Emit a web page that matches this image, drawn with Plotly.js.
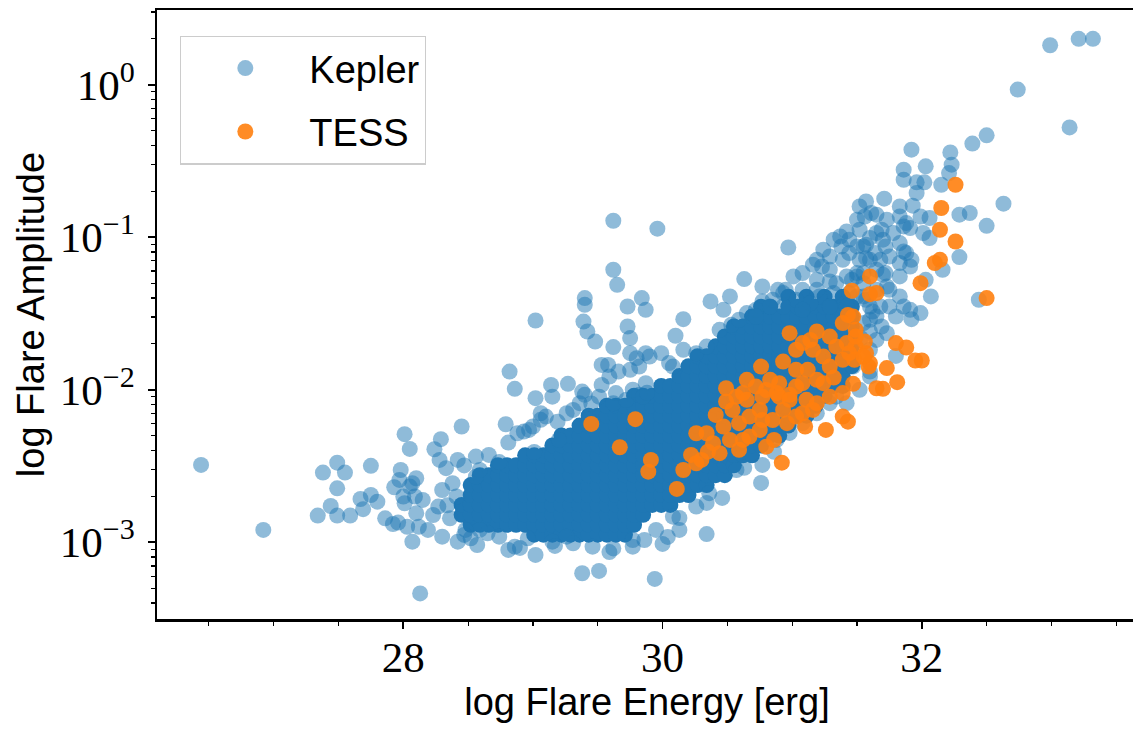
<!DOCTYPE html>
<html>
<head>
<meta charset="utf-8">
<script src="https://cdn.plot.ly/plotly-3.0.1.min.js"></script>
<style>
html,body{margin:0;padding:0;background:#fff;overflow:hidden;}
#chart{width:1140px;height:730px;}
</style>
</head>
<body>
<div id="chart"></div>
<script>
// ---------- Kepler: individual (translucent) flares, log energy & log amplitude ----------
const keplerLogE = [
26.44,26.92,28.01,28.05,27.49,27.38,27.55,27.75,27.49,27.67,27.75,27.80,27.69,27.44,27.34,27.49,27.59,27.86,27.92,27.96,27.98,27.97,27.93,28.01,28.07,28.07,28.13,
28.00,28.05,28.10,28.09,28.15,28.10,28.03,28.12,28.19,28.23,28.27,28.30,28.38,28.30,28.42,28.52,28.65,28.81,28.86,29.02,29.38,29.51,29.46,29.62,29.77,29.77,29.94,
29.15,29.31,29.26,28.74,28.96,28.59,28.36,28.48,28.41,28.47,28.56,28.45,28.79,28.29,28.24,28.28,28.33,28.56,28.66,28.42,28.81,
29.02,29.06,29.06,28.97,28.88,29.19,29.26,29.36,29.40,28.93,29.00,29.10,29.31,29.45,29.51,29.62,29.72,29.82,29.15,
29.62,29.62,29.65,29.40,29.40,29.02,29.39,29.42,29.48,29.73,29.84,29.87,29.73,29.75,29.62,29.75,29.80,29.87,29.53,29.58,29.66,
28.82,28.86,29.14,29.27,29.38,29.53,29.59,29.75,29.82,29.77,29.87,29.64,29.85,
29.96,30.97,30.63,30.77,30.37,30.52,30.47,30.16,30.10,29.90,29.99,30.08,30.26,30.44,30.53,30.65,30.77,30.89,31.01,31.16,31.24,31.32,31.42,31.52,31.57,31.52,31.57,31.56,
31.44,31.55,31.64,31.60,31.39,31.29,31.19,31.08,31.34,31.50,31.65,31.65,31.55,30.34,30.59,30.72,30.85,30.95,30.05,30.16,
32.99,33.21,33.32,32.74,33.14,32.50,32.39,31.92,32.22,32.23,32.03,31.86,32.21,31.86,31.96,32.02,32.15,31.96,32.63,31.71,31.83,31.93,32.29,32.37,32.50,
31.65,31.73,31.83,31.88,31.99,32.01,32.29,32.16,32.44,32.07,32.03,31.69,31.72,31.75,31.83,31.88,31.91,31.83,31.72,31.75,31.83,31.46,31.44,31.57,31.68,31.91,31.99,31.75,
31.92,31.73,31.86,31.80,31.62,31.60,31.69,31.73,31.60,31.65,31.53,31.80,31.60,31.47,31.60,31.61,32.06,31.86,31.91,32.06,31.60,31.70,31.78,31.83,31.50,31.57,31.68,31.86,31.92,
31.50,31.55,31.70,
29.95,30.00,30.04,30.13,30.13,30.34,30.34,30.46,30.76,30.77,30.63,30.86,30.88,30.98,30.08,30.26,30.36,30.57,31.08,31.19,31.29,31.34,31.42,31.60,31.52,
31.23,31.29,31.38,31.44,31.52,31.32,31.50,31.21,31.14,31.03,30.93,31.60,31.65,31.42,
28.57,28.90,29.17,29.59,29.86,28.47,28.34,
28.59,28.74,29.01,29.20,29.43,29.88,
31.08,31.19,31.37,31.50,31.65,31.29,31.42,31.55,31.19,30.93,30.83,30.72,31.08,31.29,31.55
];
const keplerLogAmp = [
-2.493,-2.919,-2.291,-2.388,-2.478,-2.543,-2.543,-2.499,-2.646,-2.716,-2.690,-2.734,-2.783,-2.762,-2.825,-2.825,-2.825,-2.843,-2.880,-2.871,-2.526,-2.591,-2.639,-2.744,-2.996,-2.613,-3.335,
-2.70,-2.635,-2.58,-2.70,-2.722,-2.81,-2.898,-2.898,-2.919,-2.821,-2.766,-2.657,-2.613,-2.963,-2.996,-2.974,-2.941,-3.05,-3.029,-3.083,-3.203,-3.188,-3.029,-3.04,-3.029,-2.985,-3.24,
-2.996,-3.007,-2.963,-2.963,-2.974,-2.919,-2.843,-2.919,-2.70,-2.496,-2.57,-2.241,-2.226,-2.324,-2.39,-2.46,-2.514,-2.438,-2.427,-2.46,-2.346,
-2.055,-2.154,-2.197,-2.263,-2.285,-2.209,-2.154,-2.088,-2.033,-2.274,-2.241,-2.176,-2.132,-2.09,-2.045,-2.088,-2.066,-2.033,-2.045,
-0.892,-1.213,-1.312,-1.399,-1.443,-1.546,-1.553,-1.618,-1.684,-1.454,-1.399,-1.476,-1.585,-1.661,-1.72,-1.76,-1.793,-1.76,-1.837,-1.837,-1.881,
-1.881,-1.994,-1.968,-1.961,-2.012,-1.968,-1.913,-1.869,-1.848,-2.0,-1.957,-2.022,-2.045,
-0.944,-1.067,-1.274,-1.323,-1.421,-1.388,-1.476,-1.537,-1.646,-1.782,-1.76,-1.848,-1.76,-1.607,-1.574,-1.497,-1.421,-1.345,-1.257,-1.18,-1.082,-1.016,-0.962,-0.951,-1.049,-0.798,-0.765,-0.864,
-1.016,-1.06,-1.104,-1.148,-1.148,-1.213,-1.279,-1.345,-1.301,-1.257,-1.213,-1.345,-1.388,-1.717,-1.541,-1.476,-1.41,-1.345,-1.825,-1.738,
0.259,0.301,0.301,-0.032,-0.28,-0.332,-0.386,-0.426,-0.444,-0.524,-0.535,-0.557,-0.579,-0.623,-0.64,-0.64,-0.656,-0.71,-0.78,-0.747,-0.798,-0.793,-0.852,-0.841,-0.925,
-0.852,-0.885,-0.864,-0.907,-0.864,-0.972,-1.13,-1.213,-1.41,-1.388,-1.279,-0.951,-1.06,-1.126,-1.169,-1.104,-1.192,-1.257,-1.235,-1.345,-1.388,-1.279,-1.366,-1.41,-1.454,-1.476,-1.497,-1.454,
-1.537,-1.323,-1.454,-1.52,-1.487,-1.541,-1.585,-1.629,-1.618,-1.673,-1.661,-1.778,-1.738,-1.848,-1.881,-0.841,-0.874,-0.929,-0.94,-1.005,-1.005,-1.016,-0.972,-1.038,-1.06,-1.137,-1.148,-1.093,-1.148,
-1.235,-1.301,-1.246,
-2.919,-3.011,-2.965,-2.841,-2.919,-2.946,-2.742,-2.709,-2.611,-2.493,-2.512,-2.407,-2.329,-2.283,-2.832,-2.766,-2.678,-2.526,-2.219,-2.154,-2.088,-2.045,-2.088,-1.913,-2.0,
-1.192,-1.126,-1.06,-1.104,-1.148,-1.366,-1.388,-1.388,-1.432,-1.41,-1.454,-1.454,-1.52,-1.454,
-3.018,-3.037,-3.024,-3.064,-2.985,-2.952,-2.757,
-2.526,-2.474,-2.408,-2.329,-2.197,-2.02,
-1.235,-1.148,-0.995,-0.885,-0.972,-1.29,-1.257,-1.235,-1.345,-1.366,-1.454,-1.52,-1.476,-1.454,-1.563
];

// ---------- Kepler: densely overplotted core of the cloud (read column by column) ----------
const keplerCoreLogE = [
28.45,28.45,
28.52,28.52,28.52,28.52,28.52,
28.59,28.59,28.59,28.59,28.59,28.59,
28.66,28.66,28.66,28.66,28.66,28.66,
28.73,28.73,28.73,28.73,28.73,28.73,28.73,
28.80,28.80,28.80,28.80,28.80,28.80,28.80,
28.87,28.87,28.87,28.87,28.87,28.87,28.87,
28.94,28.94,28.94,28.94,28.94,28.94,28.94,28.94,
29.01,29.01,29.01,29.01,29.01,29.01,29.01,29.01,29.01,
29.08,29.08,29.08,29.08,29.08,29.08,29.08,29.08,29.08,
29.15,29.15,29.15,29.15,29.15,29.15,29.15,29.15,29.15,29.15,
29.22,29.22,29.22,29.22,29.22,29.22,29.22,29.22,29.22,29.22,29.22,
29.29,29.29,29.29,29.29,29.29,29.29,29.29,29.29,29.29,29.29,29.29,
29.36,29.36,29.36,29.36,29.36,29.36,29.36,29.36,29.36,29.36,29.36,29.36,
29.43,29.43,29.43,29.43,29.43,29.43,29.43,29.43,29.43,29.43,29.43,29.43,29.43,
29.50,29.50,29.50,29.50,29.50,29.50,29.50,29.50,29.50,29.50,29.50,29.50,29.50,
29.57,29.57,29.57,29.57,29.57,29.57,29.57,29.57,29.57,29.57,29.57,29.57,29.57,29.57,
29.64,29.64,29.64,29.64,29.64,29.64,29.64,29.64,29.64,29.64,29.64,29.64,29.64,29.64,
29.71,29.71,29.71,29.71,29.71,29.71,29.71,29.71,29.71,29.71,29.71,29.71,29.71,29.71,
29.78,29.78,29.78,29.78,29.78,29.78,29.78,29.78,29.78,29.78,29.78,29.78,29.78,29.78,
29.85,29.85,29.85,29.85,29.85,29.85,29.85,29.85,29.85,29.85,29.85,29.85,29.85,
29.92,29.92,29.92,29.92,29.92,29.92,29.92,29.92,29.92,29.92,29.92,29.92,
29.99,29.99,29.99,29.99,29.99,29.99,29.99,29.99,29.99,29.99,29.99,29.99,29.99,
30.06,30.06,30.06,30.06,30.06,30.06,30.06,30.06,30.06,30.06,30.06,30.06,30.06,
30.13,30.13,30.13,30.13,30.13,30.13,30.13,30.13,30.13,30.13,30.13,30.13,30.13,
30.20,30.20,30.20,30.20,30.20,30.20,30.20,30.20,30.20,30.20,30.20,30.20,30.20,30.20,
30.27,30.27,30.27,30.27,30.27,30.27,30.27,30.27,30.27,30.27,30.27,30.27,30.27,30.27,
30.34,30.34,30.34,30.34,30.34,30.34,30.34,30.34,30.34,30.34,30.34,30.34,30.34,30.34,
30.41,30.41,30.41,30.41,30.41,30.41,30.41,30.41,30.41,30.41,30.41,30.41,30.41,30.41,
30.48,30.48,30.48,30.48,30.48,30.48,30.48,30.48,30.48,30.48,30.48,30.48,30.48,30.48,30.48,
30.55,30.55,30.55,30.55,30.55,30.55,30.55,30.55,30.55,30.55,30.55,30.55,30.55,30.55,30.55,
30.62,30.62,30.62,30.62,30.62,30.62,30.62,30.62,30.62,30.62,30.62,30.62,30.62,30.62,
30.69,30.69,30.69,30.69,30.69,30.69,30.69,30.69,30.69,30.69,30.69,30.69,30.69,30.69,30.69,
30.76,30.76,30.76,30.76,30.76,30.76,30.76,30.76,30.76,30.76,30.76,30.76,30.76,30.76,30.76,
30.83,30.83,30.83,30.83,30.83,30.83,30.83,30.83,30.83,30.83,30.83,30.83,30.83,30.83,
30.90,30.90,30.90,30.90,30.90,30.90,30.90,30.90,30.90,30.90,30.90,30.90,30.90,
30.97,30.97,30.97,30.97,30.97,30.97,30.97,30.97,30.97,30.97,30.97,30.97,30.97,30.97,
31.04,31.04,31.04,31.04,31.04,31.04,31.04,31.04,31.04,31.04,31.04,31.04,
31.11,31.11,31.11,31.11,31.11,31.11,31.11,31.11,31.11,31.11,31.11,31.11,31.11,
31.18,31.18,31.18,31.18,31.18,31.18,31.18,31.18,31.18,31.18,31.18,
31.25,31.25,31.25,31.25,31.25,31.25,31.25,31.25,31.25,31.25,31.25,
31.32,31.32,31.32,31.32,31.32,31.32,31.32,31.32,31.32,
31.39,31.39,31.39,31.39,31.39,31.39,31.39,31.39,31.39,31.39,
31.46,31.46,31.46,31.46,31.46,31.46,31.46
];
const keplerCoreLogAmp = [
-2.82,-2.755,
-2.885,-2.82,-2.755,-2.69,-2.625,
-2.885,-2.82,-2.755,-2.69,-2.625,-2.56,
-2.885,-2.82,-2.755,-2.69,-2.625,-2.56,
-2.885,-2.82,-2.755,-2.69,-2.625,-2.56,-2.495,
-2.885,-2.82,-2.755,-2.69,-2.625,-2.56,-2.495,
-2.885,-2.82,-2.755,-2.69,-2.625,-2.56,-2.495,
-2.885,-2.82,-2.755,-2.69,-2.625,-2.56,-2.495,-2.43,
-2.95,-2.885,-2.82,-2.755,-2.69,-2.625,-2.56,-2.495,-2.43,
-2.95,-2.885,-2.82,-2.755,-2.69,-2.625,-2.56,-2.495,-2.43,
-2.95,-2.885,-2.82,-2.755,-2.69,-2.625,-2.56,-2.495,-2.43,-2.365,
-2.95,-2.885,-2.82,-2.755,-2.69,-2.625,-2.56,-2.495,-2.43,-2.365,-2.3,
-2.95,-2.885,-2.82,-2.755,-2.69,-2.625,-2.56,-2.495,-2.43,-2.365,-2.3,
-2.95,-2.885,-2.82,-2.755,-2.69,-2.625,-2.56,-2.495,-2.43,-2.365,-2.3,-2.235,
-2.95,-2.885,-2.82,-2.755,-2.69,-2.625,-2.56,-2.495,-2.43,-2.365,-2.3,-2.235,-2.17,
-2.95,-2.885,-2.82,-2.755,-2.69,-2.625,-2.56,-2.495,-2.43,-2.365,-2.3,-2.235,-2.17,
-2.95,-2.885,-2.82,-2.755,-2.69,-2.625,-2.56,-2.495,-2.43,-2.365,-2.3,-2.235,-2.17,-2.105,
-2.95,-2.885,-2.82,-2.755,-2.69,-2.625,-2.56,-2.495,-2.43,-2.365,-2.3,-2.235,-2.17,-2.105,
-2.95,-2.885,-2.82,-2.755,-2.69,-2.625,-2.56,-2.495,-2.43,-2.365,-2.3,-2.235,-2.17,-2.105,
-2.885,-2.82,-2.755,-2.69,-2.625,-2.56,-2.495,-2.43,-2.365,-2.3,-2.235,-2.17,-2.105,-2.04,
-2.82,-2.755,-2.69,-2.625,-2.56,-2.495,-2.43,-2.365,-2.3,-2.235,-2.17,-2.105,-2.04,
-2.755,-2.69,-2.625,-2.56,-2.495,-2.43,-2.365,-2.3,-2.235,-2.17,-2.105,-2.04,
-2.755,-2.69,-2.625,-2.56,-2.495,-2.43,-2.365,-2.3,-2.235,-2.17,-2.105,-2.04,-1.975,
-2.755,-2.69,-2.625,-2.56,-2.495,-2.43,-2.365,-2.3,-2.235,-2.17,-2.105,-2.04,-1.975,
-2.69,-2.625,-2.56,-2.495,-2.43,-2.365,-2.3,-2.235,-2.17,-2.105,-2.04,-1.975,-1.91,
-2.69,-2.625,-2.56,-2.495,-2.43,-2.365,-2.3,-2.235,-2.17,-2.105,-2.04,-1.975,-1.91,-1.845,
-2.625,-2.56,-2.495,-2.43,-2.365,-2.3,-2.235,-2.17,-2.105,-2.04,-1.975,-1.91,-1.845,-1.78,
-2.625,-2.56,-2.495,-2.43,-2.365,-2.3,-2.235,-2.17,-2.105,-2.04,-1.975,-1.91,-1.845,-1.78,
-2.56,-2.495,-2.43,-2.365,-2.3,-2.235,-2.17,-2.105,-2.04,-1.975,-1.91,-1.845,-1.78,-1.715,
-2.56,-2.495,-2.43,-2.365,-2.3,-2.235,-2.17,-2.105,-2.04,-1.975,-1.91,-1.845,-1.78,-1.715,-1.65,
-2.495,-2.43,-2.365,-2.3,-2.235,-2.17,-2.105,-2.04,-1.975,-1.91,-1.845,-1.78,-1.715,-1.65,-1.585,
-2.43,-2.365,-2.3,-2.235,-2.17,-2.105,-2.04,-1.975,-1.91,-1.845,-1.78,-1.715,-1.65,-1.585,
-2.43,-2.365,-2.3,-2.235,-2.17,-2.105,-2.04,-1.975,-1.91,-1.845,-1.78,-1.715,-1.65,-1.585,-1.52,
-2.365,-2.3,-2.235,-2.17,-2.105,-2.04,-1.975,-1.91,-1.845,-1.78,-1.715,-1.65,-1.585,-1.52,-1.455,
-2.3,-2.235,-2.17,-2.105,-2.04,-1.975,-1.91,-1.845,-1.78,-1.715,-1.65,-1.585,-1.52,-1.455,
-2.3,-2.235,-2.17,-2.105,-2.04,-1.975,-1.91,-1.845,-1.78,-1.715,-1.65,-1.585,-1.52,
-2.235,-2.17,-2.105,-2.04,-1.975,-1.91,-1.845,-1.78,-1.715,-1.65,-1.585,-1.52,-1.455,-1.39,
-2.17,-2.105,-2.04,-1.975,-1.91,-1.845,-1.78,-1.715,-1.65,-1.585,-1.52,-1.455,
-2.17,-2.105,-2.04,-1.975,-1.91,-1.845,-1.78,-1.715,-1.65,-1.585,-1.52,-1.455,-1.39,
-2.105,-2.04,-1.975,-1.91,-1.845,-1.78,-1.715,-1.65,-1.585,-1.52,-1.455,
-2.04,-1.975,-1.91,-1.845,-1.78,-1.715,-1.65,-1.585,-1.52,-1.455,-1.39,
-1.975,-1.91,-1.845,-1.78,-1.715,-1.65,-1.585,-1.52,-1.455,
-1.975,-1.91,-1.845,-1.78,-1.715,-1.65,-1.585,-1.52,-1.455,-1.39,
-1.845,-1.78,-1.715,-1.65,-1.585,-1.52,-1.455
];

// ---------- TESS flares ----------
const tessLogE = [
32.26,32.15,32.14,32.26,32.14,32.10,31.99,32.50,31.60,31.46,31.60,31.65,31.43,
31.80,31.88,31.95,32.00,31.73,31.81,31.70,31.47,
31.47,31.49,31.56,31.49,31.57,31.48,31.59,
31.39,31.29,31.19,31.08,30.98,31.03,31.16,31.24,31.42,31.49,
31.60,31.39,31.29,31.32,31.65,
30.76,30.93,31.03,31.12,31.19,31.08,30.90,30.65,30.49,30.62,30.80,30.98,
31.14,31.34,31.44,31.55,30.83,30.72,31.03,31.24,30.90,30.57,31.29,31.39,
29.79,29.91,29.89,30.11,30.16,30.26,30.22,30.26,30.35,30.41,30.47,30.49,30.52,30.59,30.59,30.67,30.75,30.75,30.80,30.86,30.85,30.93,30.96,
30.65,30.77,30.88,30.98,31.11,31.19,31.08,31.10,31.26,30.92,31.39,31.43,30.54,30.67,30.34,30.39,30.44,30.62,30.77,31.03,31.16,30.30,
29.45,29.67
];
const tessLogAmp = [
-0.656,-0.808,-0.951,-1.028,-1.148,-1.169,-1.301,-1.399,-1.257,-1.351,-1.373,-1.366,-1.509,
-1.694,-1.723,-1.808,-1.808,-1.858,-1.95,-1.994,-1.961,
-1.52,-1.607,-1.684,-1.717,-1.76,-1.804,-1.848,
-1.563,-1.651,-1.618,-1.694,-1.629,-1.738,-1.738,-1.782,-1.694,-1.651,
-1.825,-1.804,-1.848,-1.92,-1.99,
-1.848,-1.815,-1.869,-1.869,-1.935,-1.957,-1.957,-1.935,-1.99,-2.022,-2.001,-2.033,
-1.673,-1.717,-1.76,-1.782,-1.935,-1.979,-1.979,-1.957,-2.045,-2.045,-2.045,-2.022,
-2.193,-2.46,-2.537,-2.65,-2.526,-2.482,-2.427,-2.285,-2.406,-2.165,-2.241,-2.077,-2.329,-2.394,-2.219,-2.307,-2.132,-2.263,-2.373,-2.329,-2.198,-2.132,-2.219,
-2.066,-2.045,-2.022,-2.066,-2.066,-2.088,-2.154,-2.241,-2.263,-2.478,-2.176,-2.209,-2.132,-2.176,-2.285,-2.35,-2.416,-2.329,-2.198,-2.176,-2.132,-2.46,
-2.224,-2.377
];

// ---------- Axis ticks ----------
const xTickVals = [28, 30, 32];
const xTickText = ['28', '30', '32'];
const yTickVals = [0.001, 0.01, 0.1, 1];
const yTickText = ['10<sup>−3</sup>', '10<sup>−2</sup>', '10<sup>−1</sup>', '10<sup>0</sup>'];
const yMinorTickVals = [0.0004,0.0005,0.0006,0.0007,0.0008,0.0009,
  0.002,0.003,0.004,0.005,0.006,0.007,0.008,0.009,
  0.02,0.03,0.04,0.05,0.06,0.07,0.08,0.09,
  0.2,0.3,0.4,0.5,0.6,0.7,0.8,0.9,2,3];

const toAmp = v => Math.pow(10, v);
const KEPLER_BLUE = '#1f77b4';
const TESS_ORANGE = '#ff7f0e';
const SANS = 'Liberation Sans, Arial, sans-serif';
const SERIF = 'Liberation Serif, DejaVu Serif, serif';

const traces = [
  {
    type: 'scatter', mode: 'markers', name: 'Kepler', legendgroup: 'kepler', showlegend: false,
    x: keplerCoreLogE, y: keplerCoreLogAmp.map(toAmp),
    marker: {size: 16, color: KEPLER_BLUE, opacity: 1, line: {width: 0}},
    hoverinfo: 'skip'
  },
  {
    type: 'scatter', mode: 'markers', name: 'Kepler', legendgroup: 'kepler',
    x: keplerLogE, y: keplerLogAmp.map(toAmp),
    marker: {size: 16, color: KEPLER_BLUE, opacity: 0.5, line: {width: 0}}
  },
  {
    type: 'scatter', mode: 'markers', name: 'TESS', legendgroup: 'tess',
    x: tessLogE, y: tessLogAmp.map(toAmp),
    marker: {size: 16, color: TESS_ORANGE, opacity: 0.9, line: {width: 0}}
  }
];

const layout = {
  width: 1140, height: 730,
  margin: {l: 157, r: 3, t: 10, b: 111},
  paper_bgcolor: '#ffffff', plot_bgcolor: '#ffffff',
  font: {family: SANS, color: '#000000'},
  showlegend: true,
  legend: {
    x: 0.0235, y: 0.958, xanchor: 'left', yanchor: 'top',
    bgcolor: 'rgba(255,255,255,0.8)', bordercolor: '#cccccc', borderwidth: 1.3,
    font: {family: SANS, size: 38, color: '#000000'},
    itemwidth: 118, traceorder: 'grouped', tracegroupgap: 11
  },
  xaxis: {
    range: [26.10, 33.66], showgrid: false, zeroline: false,
    showline: true, linecolor: '#000000', linewidth: 2.5, mirror: true,
    tickmode: 'array', tickvals: xTickVals, ticktext: xTickText,
    ticks: 'outside', ticklen: 7, tickwidth: 1.6, tickcolor: '#000000',
    ticklabelstandoff: -8,
    minor: {ticks: 'outside', ticklen: 4, tickwidth: 1.2, tickcolor: '#000000', dtick: 0.5, tick0: 26, showgrid: false},
    tickfont: {family: SERIF, size: 43, color: '#000000'},
    title: {text: 'log Flare Energy [erg]', font: {family: SANS, size: 38, color: '#000000'}, standoff: 6}
  },
  yaxis: {
    type: 'log', range: [-3.503, 0.49], showgrid: false, zeroline: false,
    showline: true, linecolor: '#000000', linewidth: 2.5, mirror: true,
    tickmode: 'array', tickvals: yTickVals, ticktext: yTickText,
    ticks: 'outside', ticklen: 7, tickwidth: 1.6, tickcolor: '#000000',
    ticklabelstandoff: 4,
    minor: {ticks: 'outside', ticklen: 4, tickwidth: 1.2, tickcolor: '#000000', tickmode: 'array', tickvals: yMinorTickVals, showgrid: false},
    tickfont: {family: SERIF, size: 43, color: '#000000'},
    title: {text: 'log Flare Amplitude', font: {family: SANS, size: 38, color: '#000000'}, standoff: 4}
  }
};

Plotly.newPlot('chart', traces, layout, {displayModeBar: false, staticPlot: true});
</script>
</body>
</html>
